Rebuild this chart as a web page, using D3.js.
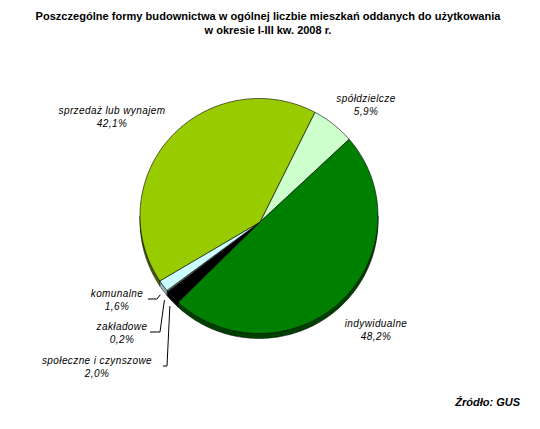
<!DOCTYPE html>
<html>
<head>
<meta charset="utf-8">
<script src="https://cdn.jsdelivr.net/npm/d3@7"></script>
<style>
  html, body { margin: 0; padding: 0; background: #fff; }
  text { font-family: "Liberation Sans", Arial, sans-serif; }
</style>
</head>
<body>
<svg id="chart" width="540" height="429"></svg>
<script>
// ---- data ----
const categories = ["spółdzielcze", "indywidualne", "społeczne i czynszowe", "zakładowe", "komunalne", "sprzedaż lub wynajem"];
const values = [5.9, 48.2, 2.0, 0.2, 1.6, 42.1];
const valueLabels = ["5,9%", "48,2%", "2,0%", "0,2%", "1,6%", "42,1%"];
const titleLines = ["Poszczególne formy budownictwa w ogólnej liczbie mieszkań oddanych do użytkowania", "w okresie I-III kw. 2008 r."];
const sourceText = "Źródło: GUS";

// ---- styles / layout ----
const topColors = ["#CCFFCC", "#008000", "#000000", "#808080", "#CCFFFF", "#99CC00"];
const sideColors = ["#99bb99", "#004000", "#000000", "#404040", "#99bbbb", "#4d6600"];
// label anchor (centre x, baseline of first line) and optional leader
const labelLayout = [
  { x: 366, y: 102, leader: false },
  { x: 376, y: 327, leader: false },
  { x: 97, y: 364, leader: true, lx: 163, hx: 167 },
  { x: 122, y: 330, leader: true, lx: 150, hx: 160 },
  { x: 117, y: 297, leader: true, lx: 148, hx: 157 },
  { x: 112, y: 114, leader: false }
];

const svg = d3.select("#chart");
const cx = 259, cy = 216, rx = 119, ry = 117.5, depth = 5;
const vx = 260, vy = 222; // apex of slices (perspective)

const data = categories.map((c, i) => ({ name: c, value: values[i], label: valueLabels[i], i }));
const startDeg = 28;
const pie = d3.pie().value(d => d.value).sort(null)
  .startAngle(startDeg * Math.PI / 180).endAngle((startDeg + 360) * Math.PI / 180);
const arcs = pie(data);

const ex = a => cx + rx * Math.sin(a);
const ey = a => cy - ry * Math.cos(a);

function samples(a0, a1) {
  const n = Math.max(2, Math.ceil(Math.abs(a1 - a0) / 0.02));
  return d3.range(n + 1).map(k => a0 + (a1 - a0) * k / n);
}

// sides (visible front part: angles between 90° and 270° modulo 360)
const g = svg.append("g");
arcs.forEach(a => {
  const ranges = [];
  [0, 2 * Math.PI].forEach(off => {
    const lo = Math.max(a.startAngle, Math.PI / 2 + off);
    const hi = Math.min(a.endAngle, 3 * Math.PI / 2 + off);
    if (hi > lo) ranges.push([lo, hi]);
  });
  ranges.forEach(([lo, hi]) => {
    const pts = samples(lo, hi);
    const top = pts.map(t => [ex(t), ey(t)]);
    const bot = pts.slice().reverse().map(t => [ex(t), ey(t) + depth]);
    g.append("path")
      .attr("d", d3.line()(top.concat(bot)) + "Z")
      .attr("fill", sideColors[a.data.i])
      .attr("stroke", "#000").attr("stroke-width", 0.5);
  });
});

// top faces
arcs.forEach(a => {
  const pts = samples(a.startAngle, a.endAngle).map(t => [ex(t), ey(t)]);
  g.append("path")
    .attr("d", d3.line()([[vx, vy]].concat(pts)) + "Z")
    .attr("fill", topColors[a.data.i])
    .attr("stroke", "#000").attr("stroke-width", 0.6).attr("stroke-linejoin", "round");
});

// labels
const lg = svg.append("g").attr("font-size", "10px").attr("font-style", "italic")
  .attr("letter-spacing", "0.4px").attr("fill", "#000");
arcs.forEach(a => {
  const L = labelLayout[a.data.i];
  lg.append("text").attr("x", L.x).attr("y", L.y).attr("text-anchor", "middle").text(a.data.name);
  lg.append("text").attr("x", L.x).attr("y", L.y + 13).attr("text-anchor", "middle").text(a.data.label);
  if (L.leader) {
    const mid = (a.startAngle + a.endAngle) / 2;
    const px = ex(mid) - 3, py = ey(mid) + depth + 4;
    svg.append("path")
      .attr("d", d3.line()([[L.lx, L.y + 2], [L.hx, L.y + 2], [px, py]]))
      .attr("fill", "none").attr("stroke", "#000").attr("stroke-width", 1);
  }
});

// title
svg.selectAll(".title").data(titleLines).join("text")
  .attr("x", 268).attr("y", (d, i) => 20 + i * 14)
  .attr("text-anchor", "middle").attr("font-size", "11px").attr("font-weight", "bold")
  .attr("textLength", (d, i) => i === 0 ? 465 : null)
  .attr("lengthAdjust", "spacingAndGlyphs")
  .text(d => d);

// source
svg.append("text").attr("x", 520).attr("y", 406).attr("text-anchor", "end")
  .attr("font-size", "11px").attr("font-weight", "bold").attr("font-style", "italic")
  .text(sourceText);
</script>
</body>
</html>
